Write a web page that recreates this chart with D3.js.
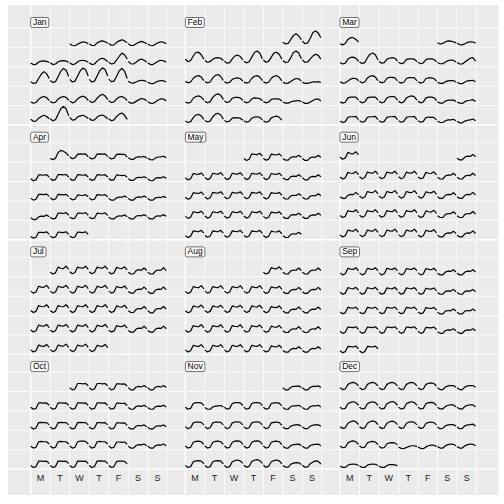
<!DOCTYPE html>
<html><head><meta charset="utf-8">
<script src="https://cdn.jsdelivr.net/npm/d3@7"></script>
<style>html,body{margin:0;padding:0;background:#fff;}svg{display:block;} text{-webkit-font-smoothing:antialiased;}</style>
</head><body>
<svg id="chart" width="504" height="504"></svg>
<script>
// Electricity demand (hundreds of MW), 8 samples per day, 2014
const year = 2014;
const monthLabels = ["Jan","Feb","Mar","Apr","May","Jun","Jul","Aug","Sep","Oct","Nov","Dec"];
const dayLabels = ["M","T","W","T","F","S","S"];

const jan = [
[41,35,34,39,44,48,46,41],[40,35,35,44,49,51,48,43],[42,36,37,46,51,55,51,44],[41,35,35,41,46,49,46,41],[40,35,34,40,45,48,46,41],
[41,36,37,45,48,49,47,43],[42,36,38,46,49,50,48,44],[42,36,38,46,50,51,49,44],[42,36,38,48,55,58,54,46],[44,38,40,52,65,76,70,55],[47,39,38,44,52,55,51,45],[42,36,36,42,48,51,49,44],
[44,38,40,55,70,79,72,55],[48,41,44,62,80,90,84,62],[52,43,46,64,82,91,86,64],[52,43,46,64,83,92,86,64],[53,44,46,63,82,90,80,55],[45,40,39,43,47,49,48,44],[42,38,37,42,46,48,47,43],
[41,37,39,50,57,60,56,46],[43,38,40,51,57,60,57,47],[44,38,41,52,58,61,57,47],[45,39,42,54,63,68,62,49],[45,39,41,52,58,60,55,46],[42,37,37,43,49,53,51,44],[42,37,36,42,48,52,51,44],
[48,41,42,52,58,62,58,50],[50,43,47,66,85,93,85,60],[55,45,47,56,60,62,58,51],[52,44,46,56,61,63,58,50],[50,43,46,58,66,70,62,48]
];
const feb = [
[46,40,42,56,70,76,68,55],[50,41,44,60,80,85,78,62],
[55,46,50,66,78,79,70,55],[50,44,46,55,59,60,58,50],[48,41,43,56,66,69,64,52],[48,42,46,62,78,83,76,56],[52,44,47,62,76,79,72,55],[50,43,45,60,78,83,76,56],[52,44,45,56,66,72,68,55],
[45,40,43,56,63,65,60,48],[44,40,43,57,66,69,62,48],[44,39,42,52,56,57,55,46],[43,39,42,56,63,65,60,48],[44,39,42,56,63,65,59,47],[42,38,39,45,51,55,54,46],[42,38,38,41,43,43,44,41],
[41,37,40,54,60,62,58,47],[43,38,42,57,66,69,64,49],[44,39,42,54,57,57,55,46],[43,38,41,52,55,54,53,45],[42,38,41,50,52,52,51,44],[41,37,37,41,44,45,46,42],[41,36,36,41,46,51,51,44],
[42,37,40,54,63,65,60,48],[44,39,42,57,66,69,63,49],[44,39,42,52,54,53,52,45],[43,38,41,52,56,57,55,46],[43,38,41,53,57,59,55,45]
];
const mar = [
[44,40,42,48,51,50,48,44],[44,38,37,41,46,48,47,44],
[43,38,41,55,61,62,58,47],[45,40,43,60,72,76,70,52],[47,41,43,55,58,60,58,48],[44,39,42,54,56,56,55,46],[44,39,42,53,56,56,54,46],[43,39,39,45,50,52,51,45],[43,38,38,45,52,58,60,48],
[44,39,40,46,53,56,55,47],[45,40,43,57,63,65,60,48],[45,40,43,56,59,59,57,47],[44,39,42,55,58,58,57,47],[44,39,42,55,57,57,55,46],[42,38,38,44,47,48,48,43],[42,37,37,43,47,48,49,44],
[42,37,40,55,58,58,58,47],[43,38,41,55,58,58,58,47],[43,38,41,55,59,60,59,47],[43,38,41,55,60,62,59,47],[43,38,41,55,58,58,56,46],[42,37,37,44,47,47,48,43],[41,37,36,42,46,47,49,43],
[42,37,40,55,57,57,58,47],[43,38,41,55,57,57,58,47],[43,38,41,55,57,57,58,47],[43,38,41,55,57,57,58,47],[43,38,41,54,56,55,55,46],[42,37,37,43,46,46,48,43],[41,36,36,42,45,46,49,43],
[41,37,42,56,62,62,56,47]
];
const apr = [
[41,37,42,62,69,66,60,50],[47,40,43,56,57,56,57,47],[45,39,42,56,57,56,57,47],[45,39,42,55,56,55,55,46],[43,38,38,45,47,46,48,43],[42,37,36,43,46,46,49,43],
[38,31,34,51,51,50,52,44],[39,32,35,52,52,51,53,44],[39,32,35,52,51,50,52,44],[39,32,35,52,51,50,52,44],[39,32,35,51,50,49,50,43],[38,32,32,41,43,42,45,40],[38,31,31,40,42,41,45,40],
[38,31,34,51,51,50,52,44],[39,32,35,51,50,49,51,43],[38,32,34,49,48,47,50,43],[38,32,34,50,49,48,50,42],[37,31,31,39,42,41,45,40],[37,31,31,40,42,41,45,40],[37,31,31,39,41,40,44,39],
[37,31,31,40,43,42,47,41],[39,33,35,53,53,52,55,46],[40,34,36,53,53,52,55,46],[40,34,36,53,52,51,54,45],[39,33,33,41,44,43,47,41],[39,33,33,43,45,44,48,42],[39,33,33,42,44,43,48,42],
[39,34,37,54,54,53,56,47],[41,35,38,55,54,53,56,47],[41,35,38,55,54,53,56,47]
];
const may = [
[41,34,38,57,55,54,59,49],[42,35,38,56,54,53,57,48],[41,35,35,45,47,46,52,45],[41,34,34,44,46,45,52,45],
[41,34,38,56,54,53,58,48],[42,35,39,57,55,54,59,49],[42,35,39,57,55,54,59,49],[42,35,39,57,55,54,58,48],[42,35,38,56,54,53,57,48],[41,35,35,45,47,46,52,45],[41,34,34,44,46,45,52,45],
[41,34,38,57,55,54,59,49],[42,35,39,58,56,55,60,50],[43,36,40,58,56,55,60,50],[43,36,40,58,56,55,60,49],[42,35,39,57,55,54,58,48],[41,35,35,46,48,47,53,46],[41,35,35,45,47,46,53,46],
[42,35,39,58,56,55,60,50],[43,36,40,58,56,55,60,50],[43,36,40,58,56,55,60,50],[43,36,40,58,56,55,60,49],[42,35,39,57,55,54,58,48],[41,35,35,46,48,47,53,46],[41,35,35,45,47,46,53,46],
[42,36,40,59,57,56,61,51],[43,37,41,59,57,56,61,51],[43,37,41,59,57,56,61,51],[43,37,41,59,57,56,61,50],[43,36,40,58,56,55,59,49],[42,36,36,47,49,48,54,47]
];
const jun = [
[42,36,36,46,49,48,55,47],
[44,37,41,60,57,56,63,52],[45,38,42,61,58,57,64,53],[45,38,42,61,58,57,64,53],[45,38,42,61,58,57,64,53],[44,38,41,60,57,56,62,51],[43,37,37,48,51,50,57,49],[43,37,37,47,50,49,57,49],
[43,37,37,48,51,50,58,49],[45,38,42,61,58,57,64,53],[45,38,42,61,58,57,64,53],[45,38,42,61,58,57,64,53],[45,38,42,60,57,56,62,51],[43,37,37,48,51,50,57,49],[43,37,37,48,51,50,58,49],
[45,38,42,62,59,58,65,54],[46,39,43,62,59,58,65,54],[46,39,43,62,59,58,65,54],[46,39,43,62,59,58,65,54],[45,38,42,61,58,57,63,52],[44,38,38,49,52,51,58,50],[44,38,38,49,52,51,59,50],
[45,38,42,62,59,58,65,54],[46,39,43,62,59,58,65,54],[46,39,43,62,59,58,65,54],[46,39,43,62,59,58,65,54],[45,38,42,61,58,57,63,52],[44,38,38,49,52,51,58,50],[44,38,38,49,52,51,59,50],
[45,38,43,62,58,57,64,54]
];
const jul = [
[44,38,42,62,58,57,65,54],[46,39,43,62,59,58,65,54],[46,39,43,62,59,58,65,54],[45,38,42,61,58,57,63,52],[44,38,38,50,53,51,59,50],[44,38,38,49,52,51,60,50],
[46,39,43,63,60,59,66,55],[46,39,43,63,60,59,66,55],[46,39,43,63,60,59,66,55],[46,39,43,63,60,59,66,55],[46,39,43,62,59,58,64,53],[45,39,39,50,53,52,60,51],[45,38,38,50,53,52,60,51],
[46,39,43,63,60,59,66,55],[46,39,43,63,60,59,66,55],[46,39,43,63,60,59,66,55],[46,39,43,63,60,59,66,55],[46,39,43,62,59,58,64,53],[45,39,39,50,53,52,60,51],[45,38,38,50,53,52,60,51],
[46,39,43,63,60,59,65,54],[46,39,43,63,60,59,65,54],[46,39,43,63,60,59,65,54],[46,39,43,62,59,58,65,54],[45,39,42,61,58,57,63,52],[44,38,38,49,52,51,59,50],[44,38,38,49,52,51,59,50],
[44,37,41,61,57,56,63,53],[45,38,42,61,58,57,64,53],[45,38,42,61,58,57,64,53],[45,38,42,60,57,56,63,52]
];
const aug = [
[44,38,42,60,57,56,63,52],[44,38,38,49,52,51,59,50],[44,38,38,49,52,51,59,50],
[45,38,42,62,59,58,65,54],[46,39,43,62,59,58,65,54],[46,39,43,62,59,58,65,54],[46,39,43,62,59,58,65,54],[45,38,42,61,58,57,63,52],[44,38,38,49,52,51,59,50],[44,38,38,49,52,51,59,50],
[45,38,42,62,59,58,65,54],[46,39,43,62,59,58,64,54],[46,39,43,62,59,58,64,54],[46,39,43,62,59,58,64,53],[45,38,42,60,57,56,62,51],[44,38,38,48,51,50,58,49],[44,38,38,48,51,50,58,49],
[45,38,42,61,58,57,64,53],[45,38,42,61,58,57,64,53],[45,38,42,61,58,57,64,53],[45,38,42,61,58,57,63,52],[44,38,41,59,56,55,61,51],[43,37,37,47,50,49,57,48],[43,37,37,47,50,49,57,48],
[44,37,41,60,57,56,62,52],[44,37,41,60,57,56,62,52],[44,37,41,60,57,56,62,52],[44,37,41,60,57,56,62,52],[43,37,40,58,55,54,60,50],[42,36,36,46,49,48,55,47],[42,36,36,46,49,48,55,47]
];
const sep = [
[42,35,39,58,55,54,60,49],[42,35,39,58,55,54,60,49],[42,35,39,58,55,54,59,49],[42,35,39,57,55,54,59,49],[42,35,38,57,54,53,58,48],[41,35,35,45,48,47,53,45],[41,35,35,45,48,47,53,45],
[42,35,39,58,55,54,59,49],[42,35,39,58,55,54,59,49],[42,35,39,57,55,54,59,49],[42,35,39,57,55,54,58,48],[41,35,38,56,54,53,57,47],[41,35,35,45,47,46,52,44],[41,35,35,45,47,46,52,44],
[41,35,38,57,55,54,58,48],[41,35,38,57,55,54,58,48],[41,35,38,57,55,54,58,48],[41,35,38,57,55,54,58,48],[41,35,38,56,54,53,57,47],[40,34,34,44,46,45,51,44],[40,34,34,44,46,45,51,44],
[41,34,38,56,55,54,57,48],[41,34,38,56,55,54,57,48],[41,34,38,56,55,54,57,48],[41,34,38,56,55,54,57,48],[41,34,37,55,54,53,56,47],[40,34,34,44,46,45,50,43],[40,34,34,44,46,45,50,43],
[41,34,38,56,55,54,57,48],[41,34,38,56,55,54,57,48]
];
const oct = [
[41,34,37,56,56,55,56,48],[41,34,37,56,56,55,56,48],[41,34,37,55,55,54,55,47],[41,34,34,44,46,44,49,42],[41,34,34,44,46,44,49,42],
[41,34,37,56,56,55,56,48],[41,34,37,56,56,55,56,48],[41,34,37,56,56,55,56,48],[41,34,37,56,56,55,56,48],[41,34,37,55,55,54,55,47],[40,34,34,44,46,44,48,42],[40,34,34,43,45,44,48,42],
[40,33,36,55,56,55,55,47],[40,33,36,55,56,55,55,47],[40,33,36,55,56,55,55,47],[40,33,36,55,55,54,55,47],[40,33,36,54,54,53,54,46],[39,33,33,43,45,44,47,41],[39,33,33,42,44,43,47,41],
[40,34,37,56,57,56,56,48],[41,34,37,56,57,56,56,48],[41,34,37,56,58,58,57,48],[41,34,37,56,57,56,56,48],[41,34,37,55,55,54,55,47],[40,34,34,43,46,45,48,42],[40,34,34,43,45,44,48,42],
[41,34,37,56,56,55,56,48],[41,34,37,56,56,55,56,48],[41,34,37,56,56,55,56,48],[41,34,37,56,57,56,56,48],[41,34,37,55,56,56,55,47]
];
const nov = [
[41,34,34,43,46,46,48,42],[41,34,34,43,46,46,48,42],
[41,34,37,54,57,57,56,47],[40,34,34,42,45,46,47,42],[41,34,37,54,57,57,56,47],[41,34,37,54,57,57,56,47],[41,34,37,54,56,56,55,46],[40,34,34,43,46,46,48,42],[40,34,34,43,46,46,48,42],
[41,34,37,54,57,57,56,47],[41,34,37,54,57,57,56,47],[41,34,37,54,57,58,56,47],[41,34,37,54,57,58,56,47],[41,34,37,54,56,57,55,46],[40,34,34,43,46,47,48,42],[40,34,34,43,46,47,48,42],
[41,34,37,54,57,58,56,47],[41,34,37,54,57,58,56,47],[41,34,37,54,58,59,57,47],[41,34,37,54,58,59,57,47],[41,34,37,54,57,58,56,46],[40,34,34,43,46,47,48,42],[40,34,34,43,46,47,48,42],
[41,34,37,54,57,58,56,47],[41,34,37,54,57,58,56,47],[41,34,37,54,58,60,57,48],[42,35,38,55,59,61,58,48],[42,35,38,54,58,60,57,47],[41,35,35,45,49,51,50,44],[42,35,36,47,53,57,55,46]
];
const dec = [
[41,35,37,53,58,60,57,48],[41,35,37,53,58,60,57,48],[41,35,37,53,58,60,57,48],[41,35,37,53,58,60,57,48],[41,35,37,53,57,58,56,47],[41,35,35,44,48,49,49,43],[41,35,35,44,48,49,49,43],
[41,35,37,53,58,60,57,48],[41,35,37,53,58,60,57,48],[41,35,37,53,58,61,58,48],[41,35,37,53,58,60,57,48],[41,35,37,53,57,58,56,47],[41,35,35,44,48,49,49,43],[41,35,35,44,48,49,49,43],
[41,35,37,53,58,61,58,48],[41,35,37,53,58,61,58,48],[41,35,37,53,58,60,57,48],[41,35,37,53,57,58,56,47],[41,35,37,52,56,57,55,47],[40,34,35,44,47,48,48,43],[40,34,35,44,47,48,50,43],
[41,35,37,52,57,59,56,47],[41,35,37,52,56,57,55,46],[40,34,36,49,52,53,52,45],[38,33,32,36,40,42,42,39],[38,33,32,38,42,44,44,40],[39,34,34,42,46,48,47,42],[39,34,34,42,46,48,47,42],
[39,34,34,42,45,46,45,41],[39,34,34,42,45,46,45,41],[39,34,34,41,44,44,43,40]
];
const months = [jan,feb,mar,apr,may,jun,jul,aug,sep,oct,nov,dec];

// ---------- layout ----------
const svg = d3.select("#chart");
const W = 504, H = 504;
const panel = {x: 8, y: 5, w: 490.5, h: 490};
const nCols = 3, nRows = 4, gapX = 0.93, gapY = 0.912;
const unitsX = nCols*7 + (nCols-1)*gapX;
const unitsY = nRows*5 + (nRows-1)*gapY;
const x = d3.scaleLinear().domain([0, unitsX]).range([30.7, 476.5]);
const y = d3.scaleLinear().domain([0, unitsY]).range([28, 469.1]);
const vScale = d3.scaleLinear().domain([30, 94]).range([0.975, 0.025]);

svg.append("rect").attr("width", W).attr("height", H).attr("fill", "#ffffff");
svg.append("rect").attr("x", panel.x).attr("y", panel.y).attr("width", panel.w).attr("height", panel.h).attr("fill", "#EBEBEB");

const grid = svg.append("g");
for (let c = 0; c < nCols; c++) {
  for (let k = 0; k <= 7; k++) {
    const ux = c*(7+gapX) + k;
    grid.append("line").attr("x1", x(ux)).attr("x2", x(ux)).attr("y1", panel.y).attr("y2", panel.y+panel.h)
      .attr("stroke", "#ffffff").attr("stroke-width", k === 0 ? 1.4 : 0.8);
  }
}
for (let r = 0; r < nRows; r++) {
  for (let k = 0; k <= 5; k++) {
    const uy = r*(5+gapY) + k;
    grid.append("line").attr("y1", y(uy)).attr("y2", y(uy)).attr("x1", panel.x).attr("x2", panel.x+panel.w)
      .attr("stroke", "#ffffff").attr("stroke-width", k === 5 ? 1.4 : 0.8);
  }
}

const line = d3.line().x(d => x(d[0])).y(d => y(d[1]));
const gl = svg.append("g");
const labelLayer = svg.append("g").attr("opacity", 0.999);
months.forEach((days, m) => {
  const mc = m % 3, mr = Math.floor(m / 3);
  const first = (new Date(year, m, 1).getDay() + 6) % 7;
  days.forEach((vals, i) => {
    const idx = first + i;
    const row = Math.floor(idx / 7) % 5;
    const col = idx % 7;
    const bx = mc*(7+gapX) + col;
    const by = mr*(5+gapY) + row;
    const pts = vals.map((v, j) => [bx + 0.95 * j / (vals.length - 1), by + vScale(v)]);
    gl.append("path").attr("d", line(pts)).attr("fill", "none").attr("stroke", "#000")
      .attr("stroke-width", 1.2).attr("stroke-linejoin", "round");
  });
  const lx = x(mc*(7+gapX)), lyb = y(mr*(5+gapY)) - 0.5;
  const g = labelLayer.append("g");
  const t = g.append("text").attr("x", lx + 2.2).attr("y", lyb - 2.6).text(monthLabels[m])
    .attr("font-family", "Liberation Sans, Arial, sans-serif").attr("font-size", 8.5).attr("fill", "#000");
  const bw = t.node().getComputedTextLength() + 4.4;
  g.insert("rect", "text").attr("x", lx).attr("y", lyb - 10).attr("width", bw).attr("height", 10)
    .attr("rx", 1.8).attr("fill", "#fff").attr("stroke", "#333").attr("stroke-width", 0.7);
});

for (let c = 0; c < nCols; c++) {
  dayLabels.forEach((lab, k) => {
    labelLayer.append("text").attr("x", x(c*(7+gapX) + k + 0.5)).attr("y", 481.3).attr("text-anchor", "middle")
      .attr("font-family", "Liberation Sans, Arial, sans-serif").attr("font-size", 9).attr("fill", "#222").text(lab);
  });
}
</script>
</body></html>
